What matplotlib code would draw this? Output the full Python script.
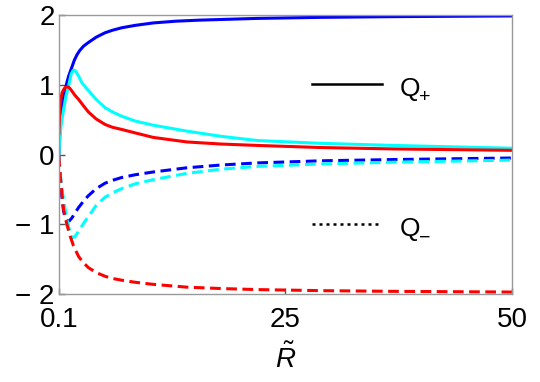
import matplotlib
matplotlib.use("Agg")
import matplotlib.pyplot as plt

plt.rcParams['font.family'] = ['Liberation Sans', 'DejaVu Sans']
plt.rcParams['mathtext.fontset'] = 'custom'
plt.rcParams['mathtext.rm'] = 'Liberation Sans'
plt.rcParams['mathtext.it'] = 'Liberation Sans:italic'

# values
R_BLUE = [0.1, 0.25, 0.43, 0.6, 0.8, 1.0, 1.17, 1.5, 1.8, 2.1, 2.4, 2.8, 3.3,
          4.2, 5.2, 6.0, 7.0, 8.5, 10.5, 13, 15.6, 22, 29, 37, 50]
BLUE_PLUS = [0.0, 0.41, 0.645, 0.80, 0.93, 1.04, 1.12, 1.24, 1.35, 1.43, 1.49,
             1.55, 1.60, 1.68, 1.745, 1.78, 1.815, 1.85, 1.885, 1.91, 1.925,
             1.95, 1.965, 1.975, 1.985]

R_CYAN = [0.1, 0.25, 0.43, 0.62, 0.9, 1.17, 1.45, 1.6, 1.72, 1.9, 2.2, 2.63,
          3.0, 3.4, 4.2, 5.2, 6.0, 7.0, 8.5, 10.5, 14.2, 18, 22, 29, 37, 50]
CYAN_PLUS = [0.0, 0.31, 0.50, 0.645, 0.85, 0.98, 1.15, 1.19, 1.21, 1.20, 1.14,
             1.03, 0.97, 0.91, 0.79, 0.67, 0.61, 0.55, 0.48, 0.42, 0.335, 0.26,
             0.20, 0.16, 0.13, 0.09]

R_RED = [0.1, 0.18, 0.25, 0.35, 0.45, 0.62, 0.8, 0.98, 1.15, 1.3, 1.53, 1.86,
         2.27, 2.8, 3.35, 4.2, 5.2, 6.0, 7.0, 8.5, 10.5, 14.2, 18, 22, 29, 37,
         50]
RED_PLUS = [0.30, 0.55, 0.72, 0.82, 0.88, 0.93, 0.96, 0.97, 0.965, 0.95, 0.91,
            0.85, 0.79, 0.70, 0.61, 0.51, 0.43, 0.39, 0.36, 0.31, 0.245, 0.18,
            0.15, 0.13, 0.10, 0.08, 0.06]

R_BLUE_M = [0.1, 0.25, 0.43, 0.62, 0.8, 0.98, 1.25, 1.53, 1.86, 2.27, 2.8,
            3.35, 4.2, 5.2, 6.0, 7.0, 8.5, 10.5, 14.2, 18, 22, 29, 37, 50]
BLUE_MINUS = [-0.02, -0.31, -0.60, -0.81, -0.91, -0.956, -0.95, -0.91, -0.84,
              -0.76, -0.67, -0.59, -0.49, -0.41, -0.37, -0.33, -0.29, -0.25,
              -0.19, -0.15, -0.12, -0.09, -0.072, -0.05]

R_CYAN_M = [0.1, 0.25, 0.43, 0.62, 0.98, 1.35, 1.6, 1.85, 2.27, 2.8, 3.4, 4.2,
            5.2, 6.0, 7.0, 8.5, 10.5, 14.2, 18, 22, 29, 37, 50]
CYAN_MINUS = [-0.02, -0.28, -0.48, -0.645, -0.93, -1.12, -1.19, -1.18, -1.10,
              -0.99, -0.88, -0.73, -0.61, -0.55, -0.49, -0.42, -0.36, -0.27,
              -0.21, -0.17, -0.135, -0.11, -0.08]

R_RED_M = [0.1, 0.25, 0.43, 0.62, 0.98, 1.35, 1.72, 2.27, 2.8, 3.35, 4.2, 5.2,
           6.0, 7.0, 8.5, 10.5, 14.2, 18, 22, 29, 37, 50]
RED_MINUS = [-0.02, -0.30, -0.55, -0.79, -1.0, -1.17, -1.31, -1.46, -1.55,
             -1.62, -1.69, -1.745, -1.775, -1.80, -1.83, -1.86, -1.90, -1.92,
             -1.935, -1.95, -1.96, -1.97]

X_TICKS = [0.1, 25, 50]
X_LABELS = ['0.1', '25', '50']
Y_TICKS = [-2, -1, 0, 1, 2]
Y_LABELS = ['\u2212 2', '\u2212 1', '0', '1', '2']

fig = plt.figure(figsize=(5.4, 3.82), dpi=100)
ax = fig.add_axes([0.109, 0.230, 0.839, 0.731])

lw = 2.2
dash = (3.5, 1.8)
ax.plot(R_BLUE, BLUE_PLUS, color='#0000ff', lw=lw)
ax.plot(R_CYAN, CYAN_PLUS, color='#00ffff', lw=lw)
ax.plot(R_RED, RED_PLUS, color='#ff0000', lw=lw)
ax.plot(R_BLUE_M, BLUE_MINUS, color='#0000ff', lw=lw, dashes=dash)
ax.plot(R_CYAN_M, CYAN_MINUS, color='#00ffff', lw=lw, dashes=dash)
ax.plot(R_RED_M, RED_MINUS, color='#ff0000', lw=lw, dashes=dash)

# hand-made legend
ax.plot([0.558, 0.713], [0.753, 0.753], color='black', lw=1.8,
        transform=ax.transAxes)
ax.plot([0.558, 0.713], [0.251, 0.251], color='black', lw=1.8,
        dashes=(1.2, 1.6), transform=ax.transAxes)
ax.text(0.753, 0.735, 'Q', transform=ax.transAxes,
        fontsize=19, va='center', ha='left')
ax.text(0.795, 0.705, '+', transform=ax.transAxes,
        fontsize=14, va='center', ha='left')
ax.text(0.753, 0.232, 'Q', transform=ax.transAxes,
        fontsize=19, va='center', ha='left')
ax.text(0.795, 0.200, '\u2212', transform=ax.transAxes,
        fontsize=14, va='center', ha='left')

ax.set_xlim(0.1, 50)
ax.set_ylim(-2, 2)
ax.set_xticks(X_TICKS)
ax.set_xticklabels(X_LABELS)
ax.set_yticks(Y_TICKS)
ax.set_yticklabels(Y_LABELS)
ax.tick_params(direction='in', length=4, width=1, color='#555555',
               labelsize=20, pad=3)
ax.tick_params(axis='x', pad=9)
for s in ax.spines.values():
    s.set_color('#999999')
    s.set_linewidth(1.0)

ax.set_xlabel(r'$\tilde{R}$', fontsize=20, labelpad=8)

fig.savefig('out.png', dpi=100)
